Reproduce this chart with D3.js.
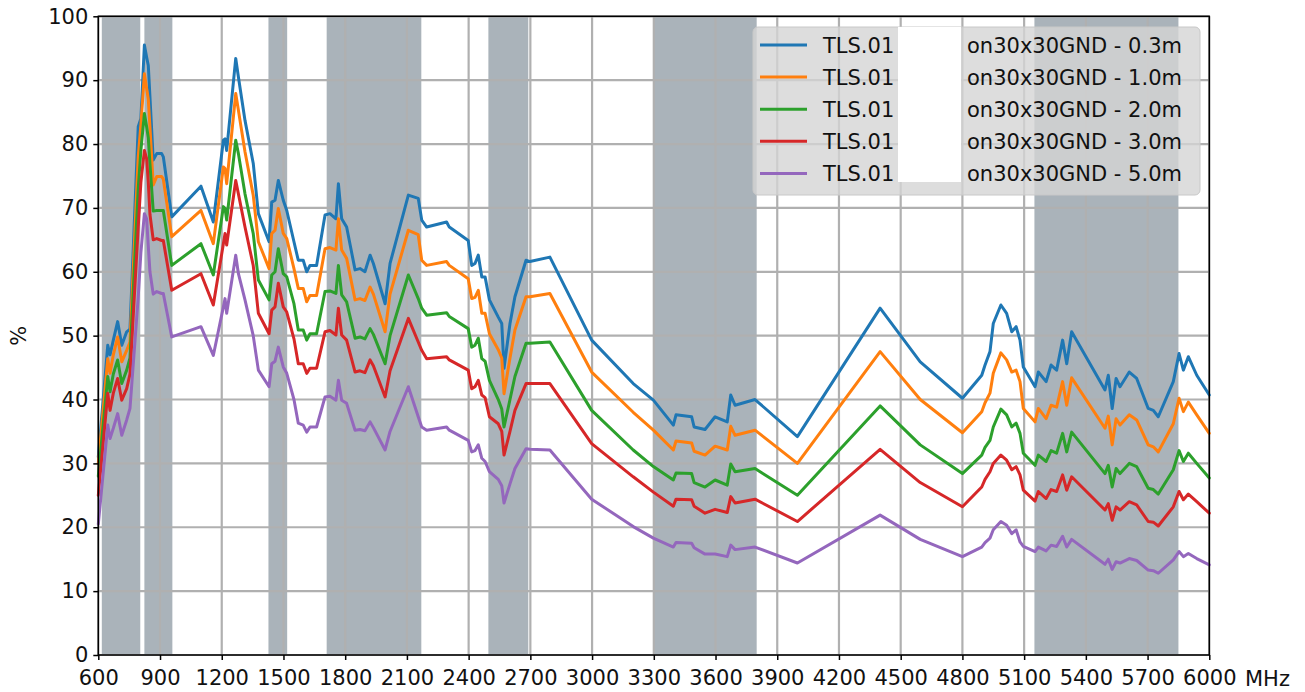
<!DOCTYPE html>
<html>
<head>
<meta charset="utf-8">
<script src="https://cdn.jsdelivr.net/npm/d3@7"></script>
<style>
  html, body { margin: 0; padding: 0; background: #ffffff; }
  svg { display: block; font-family: "DejaVu Sans", sans-serif; }
</style>
</head>
<body>
<svg id="chart" width="1305" height="692"></svg>
<script>
// ---------------- data ----------------
const freqs = [600, 646, 657, 673, 694, 714, 738, 754, 794, 807, 824, 835, 843, 851, 867, 884, 908, 916, 957,
  1099, 1159, 1208, 1216, 1224, 1268, 1281, 1313, 1353, 1378, 1430, 1443, 1459, 1475, 1499, 1516, 1551, 1572,
  1596, 1613, 1629, 1661, 1702, 1726, 1755, 1767, 1783, 1807, 1848, 1872, 1896, 1921, 1937, 1994, 2018, 2107,
  2155, 2172, 2196, 2293, 2306, 2398, 2415, 2431, 2447, 2464, 2480, 2501, 2544, 2561, 2572, 2601, 2625, 2679,
  2698, 2795, 2998, 3200, 3298, 3395, 3408, 3484, 3496, 3549, 3598, 3657, 3674, 3695, 3792, 3998, 4400, 4595,
  4800, 4894, 4910, 4934, 4950, 4987, 5015, 5040, 5061, 5080, 5096, 5153, 5169, 5207, 5231, 5258, 5287, 5307,
  5331, 5493, 5509, 5528, 5547, 5566, 5611, 5647, 5703, 5728, 5752, 5825, 5853, 5874, 5898, 5939, 6000];

const series03 = [31, 48.5, 47, 49.3, 52.2, 48.5, 50.6, 51, 82.7, 84, 95.5, 93.6, 92.3, 87.4, 77.5, 78.5, 78.5, 78, 68.6,
  73.4, 67.8, 80.6, 80.8, 79, 93.4, 90.5, 83.7, 77, 69.1, 64.7, 70.9, 71.2, 74.3, 71.2, 69.6, 64.7, 61.8,
  61.8, 60, 61, 61, 68.9, 69.1, 68.3, 73.8, 68.3, 67, 60.3, 60.5, 60, 62.6, 61.3, 55, 61.3, 72,
  71.5, 68.1, 67, 67.8, 67, 64.9, 61, 61.3, 62.6, 59.2, 59.2, 55.6, 52.9, 51.9, 44.9, 51.9, 56.1, 61.8,
  61.6, 62.3, 49.3, 42.5, 39.9, 36, 37.6, 37.3, 35.7, 35.3, 37.3, 36.5, 40.7, 39.1, 40, 34.2, 54.3, 45.9,
  40.2, 43.8, 45.4, 47.5, 51.9, 54.8, 53.5, 50.6, 51.4, 49.3, 45.1, 42, 44.3, 42.8, 45.4, 44.6, 49.3, 45.6,
  50.6, 41.5, 43.8, 38.6, 43.3, 42, 44.3, 43.3, 38.6, 38.3, 37.3, 42.8, 47.2, 44.6, 46.7, 43.8, 40.7];

const series10 = [30, 46.4, 44.1, 47, 49.8, 45.9, 47.7, 49, 78, 83, 91, 88.7, 87, 82.7, 73.6, 74.9, 74.9, 74.5, 65.5,
  69.6, 64.4, 76.4, 76.2, 73.8, 87.9, 85.3, 78.8, 72, 64.7, 60.5, 66, 66.5, 69.9, 66, 65.2, 60.5, 57.4,
  57.4, 55.3, 56.3, 56.3, 63.6, 63.8, 63.4, 68.3, 63.4, 62.1, 55.6, 55.8, 55.5, 57.6, 56.5, 50.6, 56.5, 66.5,
  65.8, 61.8, 61, 61.6, 61, 58.9, 55.8, 56, 57.1, 53.5, 53.5, 50.3, 47.8, 46.5, 40.9, 46.5, 50.9, 56.1,
  56.1, 56.6, 44.3, 38, 35.2, 32.1, 33.5, 33.2, 31.9, 31.3, 32.7, 32.1, 35.8, 34.4, 35.2, 30, 47.5, 40,
  34.8, 38.1, 39.5, 41, 44.1, 47.3, 46.2, 44.3, 44.6, 42.8, 38.6, 36.5, 38.6, 37, 39.1, 38.8, 42.8, 39.1,
  43.4, 35.5, 37.4, 32.9, 37, 36, 37.6, 36.8, 32.9, 32.6, 31.8, 36.2, 40.2, 38.1, 39.6, 37.6, 34.7];

const series20 = [28, 43.6, 41.2, 44, 46.2, 42.5, 44.6, 46.5, 73, 79, 84.8, 82.7, 81, 76.9, 69.5, 69.6, 69.6, 69.6, 61,
  64.4, 59.5, 70.2, 69.9, 68.1, 80.6, 78.5, 72.2, 66, 58.7, 55.6, 59.5, 60, 63.6, 59.7, 59.2, 55, 50.9,
  50.9, 49.3, 50.3, 50.3, 56.9, 57, 56.6, 61, 56.4, 55.3, 49.6, 49.8, 49.5, 51.1, 50.2, 45.6, 50, 59.5,
  55.8, 54.3, 53.2, 53.6, 53, 51.1, 48.2, 48.5, 49.6, 46.4, 46, 43, 40, 38.5, 35.7, 40, 43.6, 48.8,
  48.8, 49, 38.3, 32.1, 29.5, 27.4, 28.5, 28.4, 27, 26.3, 27.4, 26.6, 29.9, 28.7, 29.2, 25, 39, 32.9,
  28.4, 31.3, 32.5, 33.6, 35.7, 38.5, 37.6, 35.7, 36.3, 34.7, 31.6, 29.7, 31.3, 30.3, 32, 31.6, 34.7, 31.8,
  34.9, 28.4, 29.7, 26.3, 29.2, 28.4, 30, 29.5, 26.1, 25.9, 25.2, 29, 32, 30.3, 31.6, 30, 27.7];

const series30 = [25, 41, 38.3, 41, 43.3, 39.9, 41.7, 44, 67, 74, 79, 77.7, 74, 69, 65, 65.2, 64.9, 64.9, 57.1,
  59.7, 54.8, 64.4, 66, 64.2, 74.3, 72.2, 67, 61, 53.5, 50.3, 54, 54.5, 58.2, 54.5, 53.7, 49.5, 45.6,
  45.6, 44.1, 44.9, 44.9, 50.6, 50.8, 50.1, 54.3, 50.1, 49.3, 44.3, 44.5, 44.2, 46.2, 45.3, 40.4, 44.5, 52.7,
  49, 47.7, 46.4, 46.7, 46.2, 44.6, 41.7, 42, 43, 40.7, 40.3, 37.3, 36.2, 35, 31.3, 35, 38.3, 42.5,
  42.5, 42.5, 33.1, 27.9, 25.5, 23.3, 24.4, 24.3, 23.3, 22.2, 22.8, 22.3, 24.8, 23.8, 24.4, 20.9, 32.2, 27,
  23.2, 26.3, 27.5, 28.7, 30, 31.3, 30.5, 29, 29.5, 28.2, 25.8, 24.1, 25.6, 24.5, 25.9, 25.6, 28.2, 25.8,
  27.9, 22.7, 23.7, 21.1, 23.2, 22.7, 24, 23.5, 20.9, 20.8, 20.2, 23.2, 25.6, 24.3, 25.2, 24, 22.2];

const series50 = [20.5, 36, 33.9, 35.5, 37.8, 34.4, 36.8, 38.6, 56, 63, 69.1, 68.3, 64, 60, 56.5, 56.9, 56.6, 56.6, 49.8,
  51.4, 46.9, 54.5, 55.8, 53.5, 62.6, 59.7, 55.6, 50, 44.6, 42, 45.6, 46, 48.2, 45.1, 44.1, 40, 36.3,
  36, 34.9, 35.7, 35.7, 40.4, 40.5, 39.9, 43, 39.9, 39.4, 35.2, 35.3, 35.1, 36.5, 35.6, 32.1, 35, 42,
  37.3, 35.7, 35.2, 35.7, 35.2, 33.6, 31.8, 32, 32.9, 30.8, 30.3, 28.7, 27.5, 26.5, 23.8, 26.8, 29.2, 32.3,
  32.2, 32.1, 24.4, 20.1, 18.3, 16.9, 17.6, 17.5, 16.8, 15.8, 15.8, 15.4, 17.2, 16.5, 16.9, 14.4, 21.9, 18.1,
  15.4, 16.9, 17.6, 18.3, 19.6, 20.9, 20.3, 19, 19.6, 17.7, 17, 16.2, 16.9, 16.3, 17.2, 17, 18.6, 16.9,
  18.1, 14.2, 15, 13.4, 14.6, 14.4, 15.1, 14.8, 13.3, 13.2, 12.8, 14.9, 16.2, 15.4, 15.9, 15.1, 14.1];

const seriesNames = ["on30x30GND - 0.3m", "on30x30GND - 1.0m", "on30x30GND - 2.0m", "on30x30GND - 3.0m", "on30x30GND - 5.0m"];
const seriesPrefix = "TLS.01";
const seriesValues = [series03, series10, series20, series30, series50];
const seriesColors = ["#1f77b4", "#ff7f0e", "#2ca02c", "#d62728", "#9467bd"];

const bandStarts = [617, 824, 1427, 1710, 2496, 3300, 5150];
const bandEnds   = [804, 960, 1518, 2170, 2690, 3800, 5850];

const xTicks = [600, 900, 1200, 1500, 1800, 2100, 2400, 2700, 3000, 3300, 3600, 3900, 4200, 4500, 4800, 5100, 5400, 5700, 6000];
const yTicks = [0, 10, 20, 30, 40, 50, 60, 70, 80, 90, 100];
const xUnit = "MHz";
const yLabel = "%";

// ---------------- layout ----------------
const L = 98.3, R = 1209.3, T = 16.3, B = 655;
const svg = d3.select("#chart");
const x = d3.scaleLinear().domain([600, 6000]).range([L, R]);
const y = d3.scaleLinear().domain([0, 100]).range([B, T]);

// bands
svg.append("g").selectAll("rect").data(bandStarts.map((s, i) => [s, bandEnds[i]])).join("rect")
  .attr("x", d => x(d[0])).attr("width", d => x(d[1]) - x(d[0]))
  .attr("y", T).attr("height", B - T)
  .attr("fill", "#aab3ba");

// grid
const grid = svg.append("g").attr("stroke", "#b0b0b0").attr("stroke-width", 2.2);
grid.selectAll("line.v").data(xTicks).join("line").attr("class", "v")
  .attr("x1", d => x(d)).attr("x2", d => x(d)).attr("y1", T).attr("y2", B);
grid.selectAll("line.h").data(yTicks).join("line").attr("class", "h")
  .attr("x1", L).attr("x2", R).attr("y1", d => y(d)).attr("y2", d => y(d));

// lines
const line = d3.line().x(d => x(d[0])).y(d => y(d[1])).curve(d3.curveLinear);
svg.append("g").selectAll("path").data(seriesValues).join("path")
  .attr("d", vals => line(freqs.map((f, i) => [f, vals[i]])))
  .attr("fill", "none")
  .attr("stroke", (d, i) => seriesColors[i])
  .attr("stroke-width", 3)
  .attr("stroke-linejoin", "round")
  .attr("stroke-linecap", "round");

// spines
svg.append("rect").attr("x", L).attr("y", T).attr("width", R - L).attr("height", B - T)
  .attr("fill", "none").attr("stroke", "#000").attr("stroke-width", 1.5);

// axes
const xAxis = svg.append("g").attr("transform", `translate(0,${B})`)
  .call(d3.axisBottom(x).tickValues(xTicks).tickFormat(d3.format("d")).tickSize(5).tickPadding(10));
const yAxis = svg.append("g").attr("transform", `translate(${L},0)`)
  .call(d3.axisLeft(y).tickValues(yTicks).tickFormat(d3.format("d")).tickSize(5).tickPadding(5));
[xAxis, yAxis].forEach(a => {
  a.select(".domain").remove();
  a.selectAll(".tick line").attr("stroke", "#000").attr("stroke-width", 1.5);
  a.selectAll(".tick text").attr("font-size", 21).attr("font-family", "DejaVu Sans").attr("fill", "#111");
});

svg.append("text").attr("x", 1245).attr("y", 686).attr("font-size", 21).attr("fill", "#111").text(xUnit);
svg.append("text").attr("transform", `translate(26,${(T + B) / 2}) rotate(-90)`)
  .attr("text-anchor", "middle").attr("font-size", 21).attr("fill", "#111").text(yLabel);

// legend
const lg = svg.append("g");
lg.append("rect").attr("x", 753).attr("y", 27).attr("width", 447).attr("height", 168)
  .attr("rx", 5).attr("fill", "#d4d4d4").attr("fill-opacity", 0.8)
  .attr("stroke", "#c8c8c8").attr("stroke-width", 1);
const rowY = i => 45 + i * 32.1;
seriesNames.forEach((name, i) => {
  lg.append("line").attr("x1", 760).attr("x2", 807).attr("y1", rowY(i)).attr("y2", rowY(i))
    .attr("stroke", seriesColors[i]).attr("stroke-width", 3);
  lg.append("text").attr("x", 823).attr("y", rowY(i) + 7.7).attr("font-size", 21).attr("fill", "#111").text(seriesPrefix);
  lg.append("text").attr("x", 967).attr("y", rowY(i) + 7.7).attr("font-size", 21).attr("fill", "#111").text(name);
});
lg.append("rect").attr("x", 898).attr("y", 27).attr("width", 63).attr("height", 155).attr("fill", "#ffffff");
</script>
</body>
</html>
